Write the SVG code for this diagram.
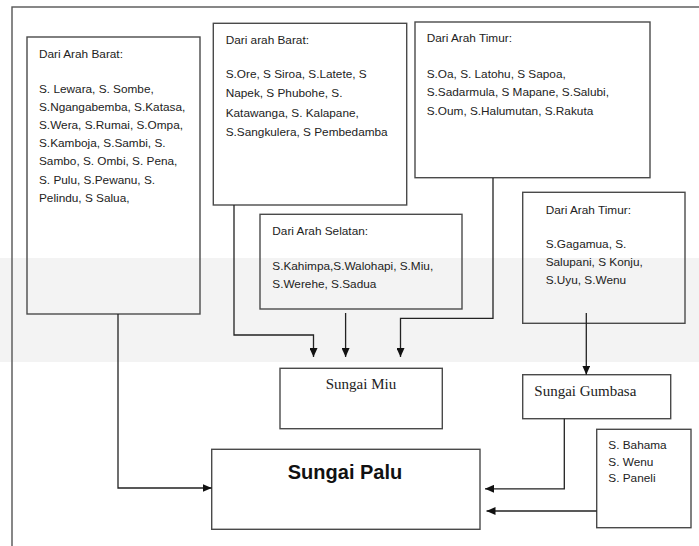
<svg xmlns="http://www.w3.org/2000/svg" width="699" height="546" viewBox="0 0 699 546">
<style>
.box{fill:none;stroke:#4a4a4a;stroke-width:1.4}
.t{font-family:"Liberation Sans",Arial,sans-serif;font-size:11.8px;fill:#222}
.s{font-family:"Liberation Serif","Times New Roman",serif;font-size:15px;fill:#222}
.b{font-family:"Liberation Sans",Arial,sans-serif;font-size:20px;font-weight:bold;fill:#111}
.c{fill:none;stroke:#222;stroke-width:1.3}
</style>
<defs>
<marker id="ah" markerUnits="userSpaceOnUse" markerWidth="9" markerHeight="8" refX="9" refY="4" orient="auto">
<path d="M0,0 L9,4 L0,8 z" fill="#111"/>
</marker>
</defs>
<rect x="0" y="0" width="699" height="546" fill="#ffffff"/>
<rect x="0" y="258" width="699" height="104" fill="#f3f3f3"/>
<rect id="frame" x="12" y="7" width="700" height="560" fill="none" stroke="#555" stroke-width="1.4"/>
<g id="barat1">
<rect class="box" x="27" y="37" width="173" height="277"/>
<text class="t" x="39" y="57.5">Dari Arah Barat:</text>
<text class="t" x="39" y="92.5">S. Lewara, S. Sombe,</text>
<text class="t" x="39" y="110.7">S.Ngangabemba, S.Katasa,</text>
<text class="t" x="39" y="128.9">S.Wera, S.Rumai, S.Ompa,</text>
<text class="t" x="39" y="147.1">S.Kamboja, S.Sambi, S.</text>
<text class="t" x="39" y="165.3">Sambo, S. Ombi, S. Pena,</text>
<text class="t" x="39" y="183.5">S. Pulu, S.Pewanu, S.</text>
<text class="t" x="39" y="201.7">Pelindu, S Salua,</text>
</g>
<g id="barat2">
<rect class="box" x="213.3" y="23.3" width="193.4" height="181.7"/>
<text class="t" x="225.7" y="43.5">Dari arah Barat:</text>
<text class="t" x="225.7" y="77.5">S.Ore, S Siroa, S.Latete, S</text>
<text class="t" x="225.7" y="97.1">Napek, S Phubohe, S.</text>
<text class="t" x="225.7" y="116.7">Katawanga, S. Kalapane,</text>
<text class="t" x="225.7" y="136.3">S.Sangkulera, S Pembedamba</text>
</g>
<g id="timur1">
<rect class="box" x="415" y="22" width="235" height="155.7"/>
<text class="t" x="426.7" y="41.5">Dari Arah Timur:</text>
<text class="t" x="426.7" y="77.5">S.Oa, S. Latohu, S Sapoa,</text>
<text class="t" x="426.7" y="96.3">S.Sadarmula, S Mapane, S.Salubi,</text>
<text class="t" x="426.7" y="115.1">S.Oum, S.Halumutan, S.Rakuta</text>
</g>
<g id="selatan">
<rect class="box" x="260" y="214.3" width="202" height="94.7"/>
<text class="t" x="272.3" y="235">Dari Arah Selatan:</text>
<text class="t" x="272.3" y="270">S.Kahimpa,S.Walohapi, S.Miu,</text>
<text class="t" x="272.3" y="288.3">S.Werehe, S.Sadua</text>
</g>
<g id="timur2">
<rect class="box" x="522.7" y="192.3" width="162.3" height="131"/>
<text class="t" x="545.7" y="213.5">Dari Arah Timur:</text>
<text class="t" x="545.7" y="247.5">S.Gagamua, S.</text>
<text class="t" x="545.7" y="265.8">Salupani, S Konju,</text>
<text class="t" x="545.7" y="284.1">S.Uyu, S.Wenu</text>
</g>
<g id="miu">
<rect class="box" x="280" y="368.3" width="162.3" height="60.4"/>
<text class="s" x="361" y="389" text-anchor="middle">Sungai Miu</text>
</g>
<g id="gumbasa">
<rect class="box" x="522.7" y="374.7" width="148" height="44"/>
<text class="s" x="534.3" y="396">Sungai Gumbasa</text>
</g>
<g id="bahama">
<rect class="box" x="596.7" y="429.3" width="94.3" height="98.4"/>
<text class="t" x="608.3" y="449">S. Bahama</text>
<text class="t" x="608.3" y="465.7">S. Wenu</text>
<text class="t" x="608.3" y="481.7">S. Paneli</text>
</g>
<g id="palu">
<rect class="box" x="211.7" y="449.3" width="268.3" height="80"/>
<text class="b" x="345" y="479.3" text-anchor="middle">Sungai Palu</text>
</g>
<g id="connectors">
<path class="c" d="M118,314 V488 H211.7" marker-end="url(#ah)"/>
<path class="c" d="M234,205 V335 H313.5 V357" marker-end="url(#ah)"/>
<path class="c" d="M345.6,313 V357" marker-end="url(#ah)"/>
<path class="c" d="M493,178 V318.3 H400.5 V357" marker-end="url(#ah)"/>
<path class="c" d="M586.3,313 V374.7" marker-end="url(#ah)"/>
<path class="c" d="M564.3,418.7 V488.8 H485" marker-end="url(#ah)"/>
<path class="c" d="M596.7,511 H486.5" marker-end="url(#ah)"/>
</g>
</svg>
